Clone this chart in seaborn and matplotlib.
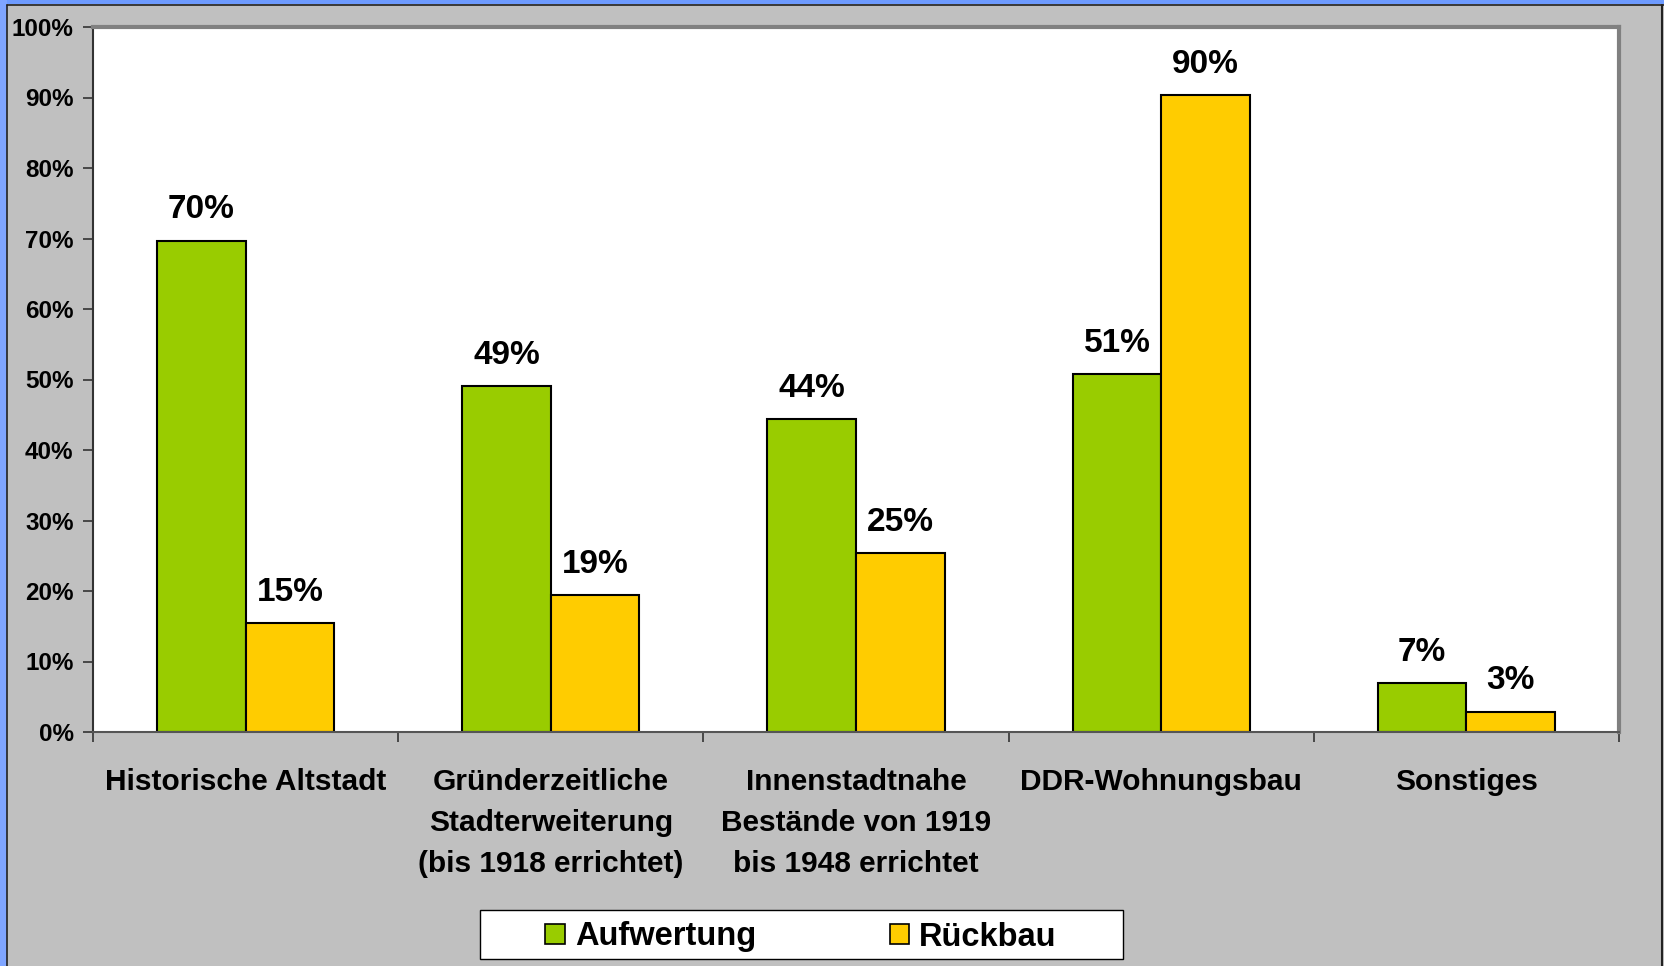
import pandas as pd
import seaborn as sns
import matplotlib.pyplot as plt
from matplotlib.patches import Patch, Rectangle

kategorien = ['Historische Altstadt',
              'Gründerzeitliche\nStadterweiterung\n(bis 1918 errichtet)',
              'Innenstadtnahe\nBestände von 1919\nbis 1948 errichtet',
              'DDR-Wohnungsbau',
              'Sonstiges']
aufwertung = [69.7, 49.1, 44.4, 50.8, 6.9]
rueckbau = [15.4, 19.4, 25.4, 90.3, 2.9]
serien = ['Aufwertung', 'Rückbau']
farben = ['#99CC00', '#FFCC00']
yticks = [0, 10, 20, 30, 40, 50, 60, 70, 80, 90, 100]

df = pd.DataFrame({
    'Kategorie': kategorien * 2,
    'Anteil': aufwertung + rueckbau,
    'Typ': [serien[0]] * 5 + [serien[1]] * 5,
})

sns.set_style('white')
plt.rcParams['font.family'] = ['Liberation Sans', 'DejaVu Sans']
plt.rcParams['font.weight'] = 'bold'
plt.rcParams['text.color'] = 'black'
plt.rcParams['xtick.color'] = 'black'
plt.rcParams['ytick.color'] = 'black'

fig = plt.figure(figsize=(16.65, 9.66), dpi=100, facecolor='#C0C0C0')
# blue window frame on top and left
fig.patches.append(Rectangle((0, 1 - 4 / 966), 1, 4 / 966, transform=fig.transFigure,
                             facecolor='#6E9BFF', edgecolor='none', zorder=0))
fig.patches.append(Rectangle((0, 0), 7 / 1665, 1, transform=fig.transFigure,
                             facecolor='#7FA5FF', edgecolor='none', zorder=0))
fig.add_artist(plt.Line2D([7 / 1665, 1], [1 - 5 / 966, 1 - 5 / 966], color='#222222', lw=1.2,
                          transform=fig.transFigure))
fig.add_artist(plt.Line2D([7.5 / 1665, 7.5 / 1665], [0, 1 - 5 / 966], color='#222222', lw=1.2,
                          transform=fig.transFigure))
fig.add_artist(plt.Line2D([1662 / 1665, 1662 / 1665], [0, 1 - 5 / 966], color='#222222', lw=1.5,
                          transform=fig.transFigure))

ax = fig.add_axes([93 / 1665, 1 - 732 / 966, 1526 / 1665, 705 / 966])
ax.set_facecolor('white')

sns.barplot(data=df, x='Kategorie', y='Anteil', hue='Typ', palette=farben, saturation=1,
            width=0.58, edgecolor='black', linewidth=1.5, legend=False, ax=ax)

for cont in ax.containers:
    ax.bar_label(cont, labels=['%.0f%%' % v for v in cont.datavalues],
                 padding=11, fontsize=24, fontweight='bold', color='black')

ax.set_ylim(0, 100)
ax.set_xlim(-0.5, 4.5)
ax.set_yticks(yticks)
ax.set_yticklabels(['%d%%' % t for t in yticks], fontsize=17.5, fontweight='bold')
ax.tick_params(axis='y', length=7, width=1.2, color='#333333', pad=7, left=True)
ax.set_xticks(range(5))
ax.set_xticklabels(kategorien, fontsize=21.5, fontweight='bold', linespacing=1.58)
ax.tick_params(axis='x', which='major', length=0, pad=26)
ax.set_xticks([-0.5, 0.5, 1.5, 2.5, 3.5, 4.5], minor=True)
ax.tick_params(axis='x', which='minor', length=7, width=1.2, color='#333333', bottom=True)
ax.set_xlabel('')
ax.set_ylabel('')

for s in ['top', 'right']:
    ax.spines[s].set_color('#808080')
    ax.spines[s].set_linewidth(3)
ax.spines['left'].set_color('#333333')
ax.spines['left'].set_linewidth(1.5)
ax.spines['bottom'].set_color('#555555')
ax.spines['bottom'].set_linewidth(1.5)

# legend box
fig.patches.append(Rectangle((480 / 1665, 1 - 959 / 966), 643 / 1665, 49 / 966,
                             transform=fig.transFigure, facecolor='white',
                             edgecolor='black', linewidth=1.0, zorder=1))
handles = [Patch(facecolor=c, edgecolor='black', linewidth=1.2, label=s) for c, s in zip(farben, serien)]
leg = fig.legend(handles=handles, loc='center', bbox_to_anchor=(801 / 1665, 1 - 937 / 966),
                 ncol=2, frameon=False, prop={'size': 23.5, 'weight': 'bold'},
                 handlelength=0.6, handleheight=0.6, handletextpad=0.3,
                 columnspacing=4.1, borderpad=0.2, borderaxespad=0)
leg.set_zorder(2)

fig.savefig('out.png', dpi=100, facecolor=fig.get_facecolor())
